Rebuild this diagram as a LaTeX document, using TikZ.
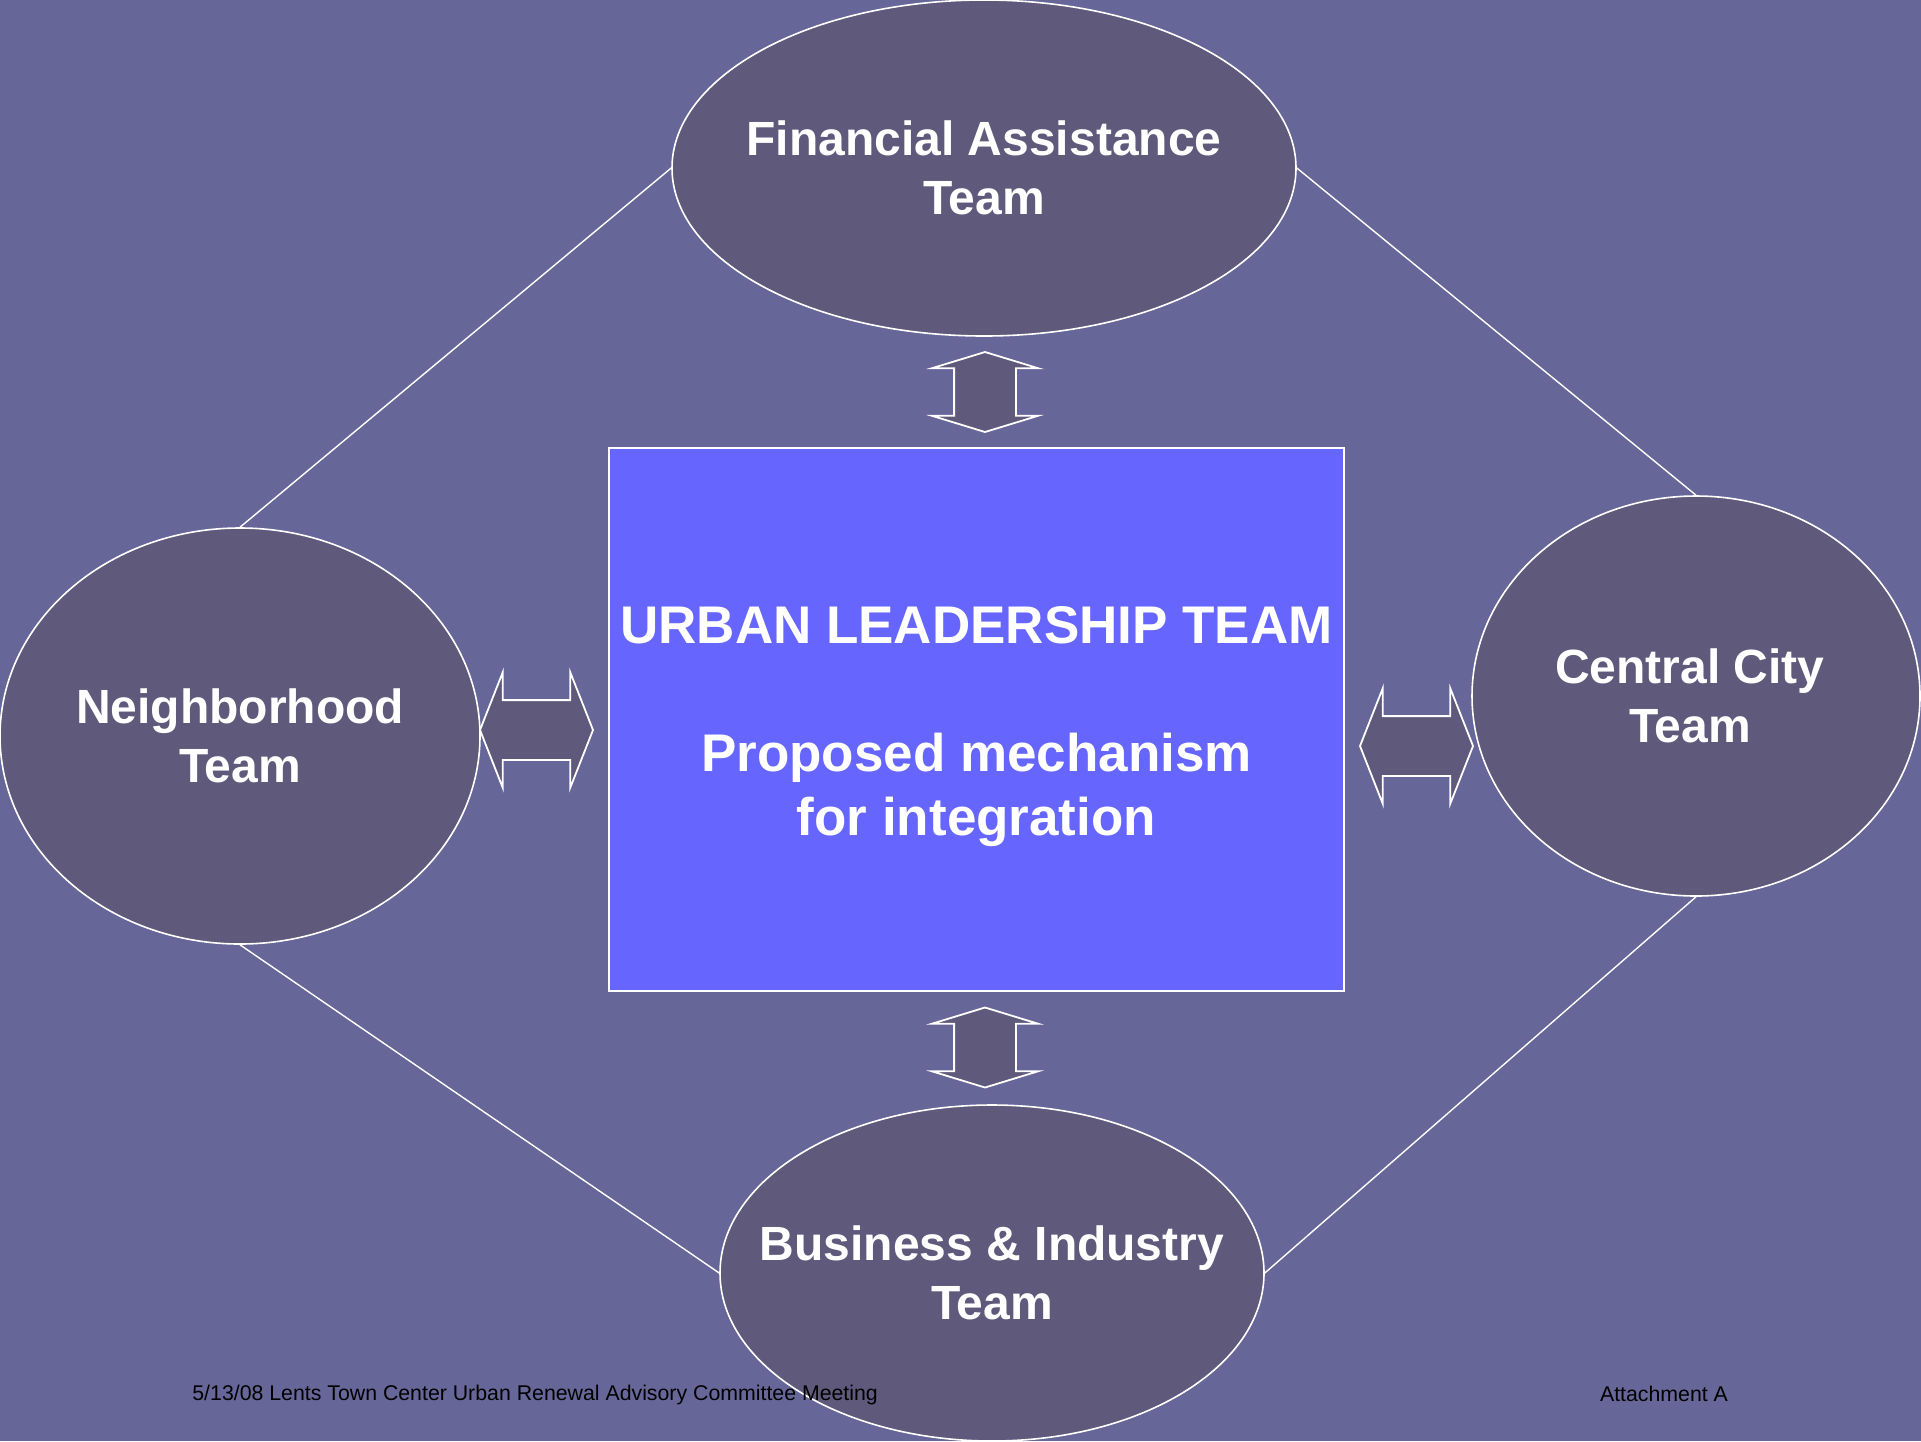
\documentclass[tikz,border=0pt]{standalone}
\usepackage{fontspec}
\setmainfont{Liberation Sans}
\usetikzlibrary{shapes.geometric,shapes.arrows}
\definecolor{slidebg}{HTML}{676699}
\definecolor{teamfill}{HTML}{5F5A7B}
\definecolor{ulbox}{HTML}{6666FF}

\begin{document}
\begin{tikzpicture}[x=1pt,y=-1pt]
\tikzset{team/.style = {shape=ellipse,draw=white,line width=0.8pt,fill=teamfill,inner sep=0pt}}
\tikzset{teamtext/.style = {align=center,text=white,inner sep=0pt,
font=\fontsize{24}{29.5}\selectfont\bfseries}}
\tikzset{link/.style = {draw=white,line width=0.7pt}}
\tikzset{dbl/.style = {shape=double arrow,draw=white,line width=0.9pt,fill=teamfill,
inner xsep=0pt}}
\tikzset{vdouble/.style = {dbl,rotate=90,inner ysep=15pt,minimum height=40pt,
double arrow head extend=11pt,double arrow tip angle=146}}
\tikzset{hdouble/.style = {dbl,inner ysep=14.5pt,minimum height=56.5pt,
double arrow head extend=14pt,double arrow tip angle=137}}
% background
\fill[slidebg] (0,0) rectangle (960.5,720.5);
\useasboundingbox (0,0) rectangle (960.5,720.5);
% vertices
\node[team,minimum width=312pt,minimum height=168pt] (fin) at (492,84) {};
\node[team,minimum width=240pt,minimum height=208pt] (nbh) at (120,368) {};
\node[team,minimum width=224pt,minimum height=200pt] (ccy) at (848,348) {};
\node[team,minimum width=272pt,minimum height=168pt] (bus) at (496,636.5) {};
\node[draw=white,line width=0.8pt,fill=ulbox,minimum width=367.5pt,minimum height=271.5pt,
inner sep=0pt] (ult) at (488.25,359.75) {};
% labels
\node[teamtext] (fintxt) at (fin) {Financial Assistance\\Team};
\node[teamtext] (nbhtxt) at (nbh) {Neighborhood\\Team};
\node[teamtext,xshift=-3pt] (ccytxt) at (ccy) {Central City\\Team};
\node[teamtext] (bustxt) at (bus) {Business \& Industry\\Team};
\node[teamtext,yshift=-3.7pt,font=\fontsize{26.5}{32}\selectfont\bfseries] (ulttxt) at (ult)
{URBAN LEADERSHIP TEAM\\[32pt]Proposed mechanism\\for integration};
% arrows
\node[vdouble] (upfin) at (492.5,196) {};
\node[vdouble] (upbus) at (492.5,523.75) {};
\node[hdouble] (lrnbh) at (268.25,365) {};
\node[hdouble] (lrccy) at (708.25,373) {};
%edges
\draw[link] (fin.west) to (nbh.north);
\draw[link] (fin.east) to (ccy.north);
\draw[link] (nbh.south) to (bus.west);
\draw[link] (ccy.south) to (bus.east);
% footer
\node[anchor=west,inner sep=0pt,font=\fontsize{10.65}{12}\selectfont] (date) at (96,697.3)
{5/13/08 Lents Town Center Urban Renewal Advisory Committee Meeting};
\node[inner sep=0pt,font=\fontsize{10.65}{12}\selectfont] (att) at (832,697) {Attachment A};
\end{tikzpicture}
\end{document}
